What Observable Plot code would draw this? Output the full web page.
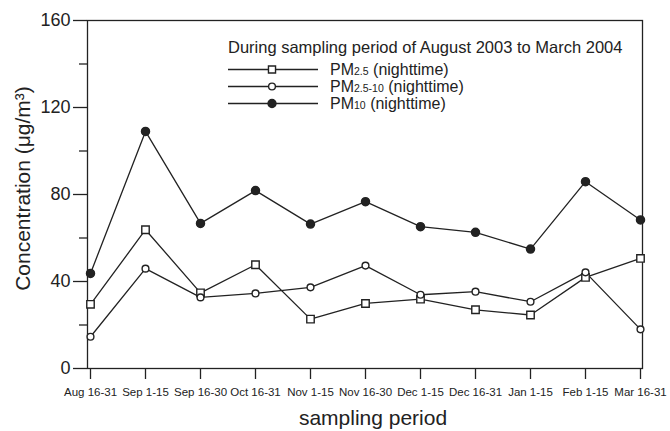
<!DOCTYPE html>
<html><head><meta charset="utf-8">
<script src="https://cdn.jsdelivr.net/npm/d3@7"></script>
<script src="https://cdn.jsdelivr.net/npm/@observablehq/plot@0.6"></script>
<style>body{margin:0;background:#fff} svg{font-family:"Liberation Sans",Arial,sans-serif}</style>
</head><body><div id="chart"></div>
<script>
const categories = ["Aug 16-31","Sep 1-15","Sep 16-30","Oct 16-31","Nov 1-15","Nov 16-30","Dec 1-15","Dec 16-31","Jan 1-15","Feb 1-15","Mar 16-31"];
const pm25   = [29.5, 63.8, 34.8, 47.7, 22.7, 29.9, 31.9, 27.0, 24.6, 41.9, 50.6];
const pm2510 = [14.6, 45.9, 32.7, 34.5, 37.3, 47.3, 33.9, 35.3, 30.7, 44.2, 18.0];
const pm10   = [43.7, 109.0, 66.7, 81.8, 66.4, 76.7, 65.2, 62.6, 54.9, 85.9, 68.3];
const yMajorTicks = [0, 40, 80, 120, 160];
const yMinorTicks = [20, 60, 100, 140];
const seriesKeys = ["PM2.5", "PM2.5-10", "PM10"];
const seriesSubs = ["2.5", "2.5-10", "10"];
const seriesSymbols = ["square", "circle", "circle"];
const seriesFills = ["white", "white", "#222"];
const legendTitle = "During sampling period of August 2003 to March 2004";
const xLabel = "sampling period";
const yLabel = "Concentration (μg/m³)";

const ink = "#222";
const seriesValues = [pm25, pm2510, pm10];
const rows = [];
seriesKeys.forEach((s, k) => categories.forEach((c, i) => rows.push({period: c, series: s, value: seriesValues[k][i]})));

const chart = Plot.plot({
  width: 670, height: 431,
  marginLeft: 87, marginRight: 28, marginTop: 20, marginBottom: 63,
  style: {fontFamily: '"Liberation Sans", Arial, sans-serif', color: ink, background: "#fff"},
  x: {type: "point", domain: categories, padding: 0, label: null},
  y: {domain: [0, 160], label: null},
  marks: [
    Plot.frame({stroke: ink, strokeWidth: 1.3}),
    Plot.axisY({ticks: yMinorTicks, tickSize: 8, tickFormat: () => "", strokeWidth: 1.3}),
    Plot.axisY({ticks: yMajorTicks, tickSize: 14, tickPadding: 3, fontSize: 18, strokeWidth: 1.3}),
    Plot.axisX({tickSize: 11, tickPadding: 8, fontSize: 11.5, strokeWidth: 1.3}),
    Plot.line(rows, {x: "period", y: "value", z: "series", stroke: ink, strokeWidth: 1.3}),
    Plot.dot(rows.filter(d => d.series === "PM2.5"), {x: "period", y: "value", symbol: "square", r: 4.2, stroke: ink, fill: "white", strokeWidth: 1.4}),
    Plot.dot(rows.filter(d => d.series === "PM2.5-10"), {x: "period", y: "value", symbol: "circle", r: 3.4, stroke: ink, fill: "white", strokeWidth: 1.4}),
    Plot.dot(rows.filter(d => d.series === "PM10"), {x: "period", y: "value", symbol: "circle", r: 4, stroke: ink, fill: ink}),
    Plot.text([yLabel], {text: d => d, frameAnchor: "left", textAnchor: "middle", lineAnchor: "middle", rotate: -90, dx: -64, dy: -6, fontSize: 21, fill: ink}),
    Plot.text([xLabel], {text: d => d, frameAnchor: "bottom", lineAnchor: "middle", dy: 50, dx: 8, fontSize: 21, fill: ink})
  ]
});
document.getElementById("chart").append(chart);

// legend
const svg = d3.select(chart);
const lg = svg.append("g").attr("fill", ink).attr("text-anchor", "start").attr("font-family", '"Liberation Sans", Arial, sans-serif');
lg.append("text").attr("x", 228).attr("y", 53).attr("font-size", 16.5).text(legendTitle);
seriesKeys.forEach((s, k) => {
  const y = 69.5 + k * 17;
  lg.append("line").attr("x1", 228).attr("x2", 318).attr("y1", y).attr("y2", y).attr("stroke", ink).attr("stroke-width", 1.3);
  lg.append("path").attr("transform", `translate(272,${y})`)
    .attr("d", d3.symbol(seriesSymbols[k] === "square" ? d3.symbolSquare : d3.symbolCircle, k === 1 ? 36 : 50)())
    .attr("fill", seriesFills[k]).attr("stroke", ink).attr("stroke-width", 1.4);
  const t = lg.append("text").attr("x", 330).attr("y", y + 5.5).attr("font-size", 16);
  t.append("tspan").text("PM");
  t.append("tspan").attr("font-size", 10.5).text(seriesSubs[k]);
  t.append("tspan").text(" (nighttime)");
});
</script></body></html>
